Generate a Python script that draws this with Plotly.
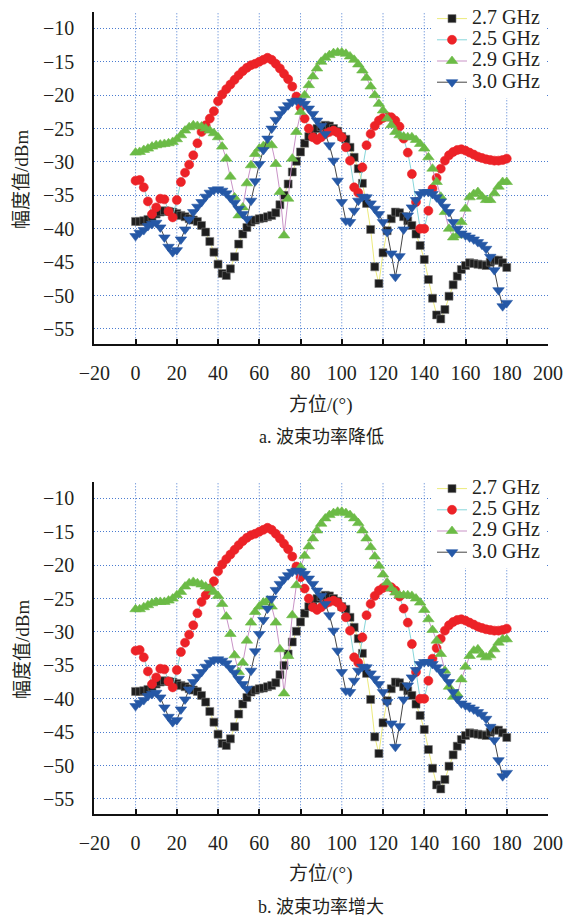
import plotly.graph_objects as go

# ---------------- data ----------------
angle = list(range(0, 181, 2))

p27 = [-38.9, -38.9, -38.8, -38.6, -38.2, -37.8, -37.5, -37.3, -37.4, -37.5,
       -37.7, -38.0, -38.2, -38.5, -38.7, -38.9, -39.5, -40.5, -41.9, -43.5,
       -45.3, -46.7, -47.0, -46.0, -44.2, -42.3, -40.8, -39.8, -39.0, -38.7,
       -38.5, -38.4, -38.2, -38.0, -37.6, -36.4, -35.0, -33.3, -31.5, -29.9,
       -28.5, -27.2, -26.2, -25.5, -25.0, -24.7, -24.5, -24.6, -25.0, -25.4,
       -26.2, -26.6, -27.8, -29.3, -31.0, -33.2, -36.2, -40.1, -45.7, -48.2,
       -43.6, -40.3, -38.5, -37.5, -37.6, -38.2, -38.8, -39.5, -40.8, -42.5,
       -44.6, -47.6, -50.4, -52.9, -53.5, -52.1, -50.1, -48.4, -47.1, -46.1,
       -45.5, -45.1, -45.2, -45.3, -45.4, -45.5, -45.0, -44.7, -44.7, -45.1,
       -45.8]

p25 = [-32.8, -32.7, -33.8, -35.9, -37.8, -36.8, -35.5, -35.6, -37.4, -38.3,
       -35.7, -33.0, -31.6, -30.4, -29.0, -27.2, -25.5, -24.5, -23.5, -22.4,
       -20.9, -19.9, -19.1, -18.4, -17.7, -17.0, -16.4, -15.9, -15.5, -15.3,
       -15.0, -14.7, -14.4, -14.7, -15.3, -16.0, -16.8, -17.6, -18.7, -20.2,
       -21.8, -23.5, -25.0, -26.3, -26.7, -26.3, -25.8, -25.5, -25.3, -25.6,
       -26.3, -27.8, -29.8, -33.8, -34.6, -30.8, -27.5, -25.8, -24.6, -23.8,
       -23.4, -23.2, -23.3, -23.8, -24.7, -26.5, -28.6, -31.8, -36.0, -40.0,
       -40.0, -37.3, -34.0, -32.4, -31.0, -29.8, -29.0, -28.5, -28.2, -28.1,
       -28.3, -28.6, -28.9, -29.2, -29.4, -29.6, -29.7, -29.8, -29.8, -29.7,
       -29.5]

p29_a = [-28.6, -28.5, -28.2, -28.0, -27.7, -27.5, -27.4, -27.3, -27.2, -27.0,
         -26.6, -26.0, -25.3, -24.8, -24.5, -24.6, -24.7, -25.0, -25.3, -25.7,
         -26.3, -27.7, -29.5, -32.2, -35.3, -38.0, -36.8, -33.2, -30.5, -28.8,
         -28.0, -27.6, -27.3, -27.5, -30.3, -34.5, -41.0, -35.5, -29.5, -25.5,
         -22.5, -20.0, -18.5, -17.2, -16.0, -15.0, -14.4, -14.0, -13.7, -13.6,
         -13.6, -13.8, -14.2, -14.7, -15.4, -16.3, -17.4, -18.7, -20.0, -21.3,
         -22.3, -23.5, -24.5, -25.5, -26.0, -26.2, -26.3, -26.3, -26.7, -27.3,
         -28.0, -29.3, -31.0, -33.0, -35.2, -37.5, -40.0, -41.3, -41.0, -39.0,
         -37.0, -35.3, -34.8, -34.5, -35.2, -35.7, -35.7, -34.7, -33.7, -33.0,
         -33.0]

p29_b = [-26.6, -26.6, -26.3, -26.0, -25.7, -25.5, -25.5, -25.5, -25.3, -25.0,
         -24.5, -24.0, -23.2, -22.7, -22.5, -22.7, -22.9, -23.2, -23.5, -24.0,
         -24.6, -25.8, -27.7, -30.3, -33.5, -36.0, -34.6, -31.3, -28.6, -27.0,
         -26.2, -25.6, -25.3, -26.2, -28.6, -32.6, -39.2, -33.6, -27.5, -23.0,
         -20.3, -18.6, -17.2, -16.0, -14.8, -13.8, -13.0, -12.5, -12.2, -12.0,
         -12.0, -12.2, -12.5, -13.0, -13.7, -14.8, -16.0, -17.3, -18.7, -20.1,
         -21.4, -22.6, -23.5, -24.1, -24.5, -24.5, -24.5, -24.6, -25.0, -25.6,
         -26.7, -28.1, -29.7, -31.3, -33.3, -35.8, -38.2, -39.7, -39.3, -37.1,
         -35.2, -33.6, -32.8, -32.6, -33.4, -33.8, -33.5, -32.6, -31.6, -31.1,
         -31.1]

p30 = [-41.1, -40.6, -40.2, -39.6, -39.3, -39.1, -39.8, -41.3, -42.7, -43.5,
       -43.2, -41.6, -40.1, -38.6, -37.5, -36.7, -36.0, -35.2, -34.6, -34.2,
       -34.1, -34.3, -34.7, -35.4, -36.1, -37.0, -37.8, -38.5, -35.8, -32.9,
       -30.3, -28.2, -26.5, -25.0, -23.7, -22.8, -22.1, -21.5, -21.0, -20.8,
       -20.9, -21.3, -22.0, -22.8, -23.8, -24.6, -25.8, -27.5, -29.8, -32.8,
       -36.0, -38.8, -39.0, -37.3, -35.8, -35.2, -35.3, -36.2, -37.0, -37.8,
       -39.0, -40.5, -43.7, -47.2, -44.1, -40.1, -38.0, -36.8, -35.7, -34.8,
       -34.5, -34.5, -34.8, -35.3, -35.9, -36.7, -37.5, -39.0, -40.0, -40.7,
       -41.0, -41.3, -41.6, -42.0, -42.4, -43.0, -44.2, -46.2, -49.2, -51.6,
       -51.1]

series_names = ["2.7 GHz", "2.5 GHz", "2.9 GHz", "3.0 GHz"]
panel_a = [p27, p25, p29_a, p30]
panel_b = [p27, p25, p29_b, p30]

x_ticks = list(range(-20, 201, 20))
x_grid = list(range(0, 181, 20))
y_ticks = list(range(-55, -9, 5))

# ---------------- styles ----------------
W, H = 571, 921
SERIF = "Liberation Serif"
MIXED = "Liberation Serif, Noto Sans CJK SC"
TXT = "#231f20"
GRID = "#4a7bd0"

line_colors = ["#ecea7c", "#86d6da", "#c993c6", "#454545"]
marker_colors = ["#1e1e1e", "#ec2227", "#6bbb46", "#2558a6"]
marker_symbols = ["square", "circle", "triangle-up", "triangle-down"]
marker_sizes = [8, 9, 10, 10]
marker_lines = ["#777777", "#ec2227", "#6bbb46", "#2558a6"]

fig = go.Figure()

panels = [(panel_a, "x", "y", "legend"), (panel_b, "x2", "y2", "legend2")]
for data, xa, ya, lg in panels:
    for i, name in enumerate(series_names):
        fig.add_trace(go.Scatter(
            x=angle, y=data[i], mode="lines+markers",
            name='<span style="font-size:20px">%s</span>' % name,
            xaxis=xa, yaxis=ya, legend=lg,
            line=dict(color=line_colors[i], width=1),
            marker=dict(symbol=marker_symbols[i], size=marker_sizes[i],
                        color=marker_colors[i],
                        line=dict(color=marker_lines[i], width=0.6)),
        ))

x_dom = [94.3 / W, 548 / W]
dom_a = [1 - 344.3 / H, 1 - 11.7 / H]
dom_b = [1 - 814.3 / H, 1 - 481.7 / H]

def xaxis_cfg(anchor):
    return dict(domain=x_dom, anchor=anchor, range=[-20, 200], automargin=False,
                tickmode="array", tickvals=x_ticks,
                ticktext=[("\u2212%d" % -v) if v < 0 else str(v) for v in x_ticks],
                showgrid=False, zeroline=False,
                showline=True, linecolor="#111111", linewidth=2,
                ticks="inside", ticklen=5, tickwidth=1.5, tickcolor="#111111",
                ticklabelstandoff=10,
                tickfont=dict(family=SERIF, size=20, color=TXT))

def yaxis_cfg(dom, anchor):
    return dict(domain=dom, anchor=anchor, range=[-57.3, -7.5], automargin=False,
                tickmode="array", tickvals=y_ticks,
                ticktext=["\u2212%d" % -v for v in y_ticks],
                showgrid=True, gridcolor=GRID, gridwidth=1, griddash="1px,2px",
                zeroline=False,
                showline=True, linecolor="#111111", linewidth=2,
                ticks="", ticklabelstandoff=14,
                tickfont=dict(family=SERIF, size=20, color=TXT))

shapes = []
for xr, yr in [("x", "y domain"), ("x2", "y2 domain")]:
    for gx in x_grid:
        shapes.append(dict(type="line", xref=xr, yref=yr, x0=gx, x1=gx, y0=0, y1=1,
                           layer="below",
                           line=dict(color=GRID, width=1, dash="1px,2px")))

def legend_cfg(ytop):
    return dict(x=432 / W, xanchor="left", y=ytop, yanchor="top",
                bgcolor="white", borderwidth=0,
                font=dict(family=SERIF, size=14, color=TXT),
                tracegroupgap=0, itemsizing="trace")

anns = []
for (title_y, cap_y, ymid, cap) in [
        (405, 437, 180, "a. 波束功率降低"),
        (874, 907, 650, "b. 波束功率增大")]:
    anns.append(dict(text="方位/(°)", x=321 / W, y=1 - title_y / H,
                     xref="paper", yref="paper", showarrow=False,
                     xanchor="center", yanchor="middle",
                     font=dict(family=MIXED, size=19, color=TXT)))
    anns.append(dict(text=cap, x=321 / W, y=1 - cap_y / H,
                     xref="paper", yref="paper", showarrow=False,
                     xanchor="center", yanchor="middle",
                     font=dict(family=MIXED, size=18, color=TXT)))
    anns.append(dict(text="幅度值/dBm", x=22 / W, y=1 - ymid / H,
                     xref="paper", yref="paper", showarrow=False, textangle=-90,
                     xanchor="center", yanchor="middle",
                     font=dict(family=MIXED, size=19, color=TXT)))

fig.update_layout(
    template="none",
    width=W, height=H,
    margin=dict(l=0, r=0, t=0, b=0, pad=0, autoexpand=False),
    paper_bgcolor="white", plot_bgcolor="white",
    xaxis=xaxis_cfg("y"), yaxis=yaxis_cfg(dom_a, "x"),
    xaxis2=xaxis_cfg("y2"), yaxis2=yaxis_cfg(dom_b, "x2"),
    legend=legend_cfg(1 - 3 / H),
    legend2=legend_cfg(1 - 473 / H),
    shapes=shapes, annotations=anns,
    showlegend=True,
)

fig.write_html("out.html")
